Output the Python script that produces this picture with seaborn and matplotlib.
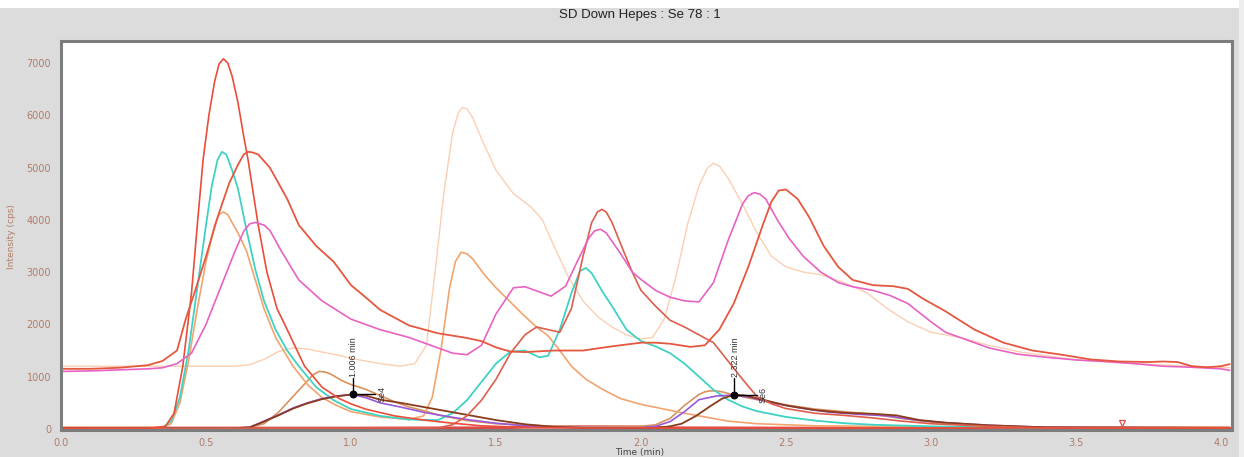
import matplotlib
matplotlib.use("Agg")
import matplotlib.pyplot as plt
from matplotlib.patches import Rectangle
from matplotlib.ticker import MultipleLocator
import seaborn as sns
import pandas as pd

# ---------------- data (time in min, intensity in cps) ----------------
red_broad_t = [0, 0.1, 0.2, 0.3, 0.35, 0.4, 0.43, 0.46, 0.5, 0.54, 0.58, 0.61, 0.63, 0.645, 0.66, 0.68, 0.72, 0.78, 0.82,
               0.88, 0.94, 1.0, 1.05, 1.1, 1.2, 1.3, 1.4, 1.45, 1.5, 1.55, 1.6, 1.7, 1.8, 1.9, 2.0, 2.05, 2.1,
               2.17, 2.22, 2.27, 2.32, 2.37, 2.42, 2.45, 2.475, 2.5, 2.54, 2.58, 2.63, 2.68, 2.73, 2.8, 2.87, 2.92,
               2.97, 3.05, 3.15, 3.25, 3.35, 3.45, 3.55, 3.65, 3.75, 3.8, 3.85, 3.9, 3.95, 4.0, 4.03]
red_broad_v = [1150, 1150, 1170, 1220, 1300, 1500, 2100, 2600, 3300, 4050, 4700, 5050, 5250, 5300, 5290, 5250, 5000, 4400, 3900,
               3500, 3200, 2750, 2520, 2280, 1980, 1830, 1740, 1680, 1560, 1480, 1470, 1500, 1500, 1580, 1650, 1650, 1630,
               1570, 1600, 1900, 2400, 3100, 3900, 4350, 4560, 4580, 4400, 4050, 3500, 3100, 2850, 2750, 2730, 2680,
               2500, 2250, 1900, 1650, 1500, 1420, 1330, 1290, 1280, 1290, 1280, 1200, 1180, 1200, 1240]

pink_t = [0, 0.1, 0.2, 0.3, 0.35, 0.4, 0.45, 0.5, 0.55, 0.6, 0.63, 0.65, 0.67, 0.7, 0.72, 0.76, 0.82, 0.9, 1.0, 1.1,
          1.2, 1.3, 1.35, 1.4, 1.45, 1.5, 1.56, 1.6, 1.64, 1.69, 1.74, 1.78, 1.82, 1.84, 1.86, 1.88, 1.93, 1.97, 2.0,
          2.05, 2.1, 2.15, 2.2, 2.25, 2.3, 2.35, 2.37, 2.39, 2.41, 2.43, 2.47, 2.51, 2.56, 2.62, 2.68, 2.73, 2.8, 2.86, 2.92,
          3.0, 3.05, 3.1, 3.2, 3.3, 3.4, 3.5, 3.6, 3.7, 3.8, 3.9, 4.0, 4.03]
pink_v = [1100, 1110, 1130, 1150, 1170, 1250, 1450, 2000, 2700, 3400, 3780, 3920, 3950, 3900, 3800, 3400, 2850, 2450, 2100, 1900,
          1750, 1550, 1450, 1420, 1600, 2200, 2700, 2720, 2640, 2540, 2730, 3200, 3650, 3790, 3820, 3750, 3350, 3000, 2860,
          2650, 2520, 2450, 2430, 2800, 3600, 4300, 4460, 4520, 4490, 4400, 4000, 3650, 3300, 3000, 2800, 2720, 2650, 2550, 2400,
          2050, 1850, 1750, 1550, 1430, 1370, 1320, 1290, 1250, 1200, 1180, 1150, 1120]

peach_t = [0, 0.2, 0.4, 0.6, 0.65, 0.7, 0.75, 0.8, 0.85, 0.9, 0.95, 1.0, 1.05, 1.1, 1.17, 1.22, 1.26, 1.29, 1.32,
           1.35, 1.37, 1.385, 1.4, 1.42, 1.45, 1.5, 1.56, 1.62, 1.66, 1.7, 1.75, 1.8, 1.85, 1.9, 1.95, 2.0, 2.04, 2.08, 2.12,
           2.16, 2.2, 2.23, 2.25, 2.27, 2.3, 2.35, 2.4, 2.45, 2.5, 2.56, 2.62, 2.7, 2.78, 2.85, 2.92, 3.0, 3.1, 3.2, 3.3, 3.5,
           3.7, 3.9, 4.03]
peach_v = [1200, 1200, 1200, 1200, 1230, 1330, 1480, 1550, 1530, 1470, 1420, 1350, 1300, 1250, 1200, 1250, 1600, 3000, 4500,
           5650, 6050, 6150, 6120, 5950, 5550, 4950, 4500, 4250, 4000, 3500, 2900, 2450, 2150, 1950, 1800, 1720, 1750, 2100, 2900,
           3900, 4650, 5000, 5080, 5030, 4800, 4300, 3750, 3300, 3100, 3000, 2950, 2800, 2600, 2300, 2050, 1850, 1750, 1600, 1480, 1320,
           1250, 1200, 1170]

red_tall_t = [0, 0.3, 0.36, 0.39, 0.42, 0.45, 0.47, 0.49, 0.51, 0.53, 0.545, 0.56, 0.575, 0.59, 0.61, 0.63, 0.645, 0.68, 0.71,
              0.745, 0.78, 0.84, 0.9, 0.96, 1.0, 1.05, 1.15, 1.25, 1.35, 1.45, 1.6, 1.8, 2.5, 4.03]
red_tall_v = [10, 10, 50, 300, 1200, 2600, 3900, 5150, 6000, 6650, 6980, 7080, 7000, 6750, 6250, 5600, 5150, 3900, 3000,
              2300, 1900, 1200, 800, 580, 480, 380, 250, 170, 110, 60, 30, 20, 20, 20]

red_mid_t = [0, 1.3, 1.35, 1.4, 1.45, 1.5, 1.55, 1.6, 1.64, 1.68, 1.72, 1.76, 1.8, 1.83, 1.85, 1.865, 1.88, 1.9, 1.94, 1.97,
             2.0, 2.05, 2.1, 2.15, 2.2, 2.25, 2.3, 2.35, 2.4, 2.45, 2.5, 2.6, 2.7, 2.8, 2.9, 3.0, 3.2, 3.4, 4.03]
red_mid_v = [10, 20, 80, 250, 550, 950, 1450, 1800, 1950, 1900, 1850, 2300, 3300, 3950, 4150, 4200, 4150, 3950, 3400, 3000,
             2650, 2350, 2080, 1950, 1800, 1650, 1300, 950, 620, 480, 390, 300, 260, 210, 150, 100, 50, 20, 20]

cyan_t = [0, 0.35, 0.38, 0.41, 0.44, 0.47, 0.5, 0.52, 0.54, 0.555, 0.57, 0.59, 0.61, 0.64, 0.67, 0.7, 0.74, 0.78, 0.82, 0.88,
          0.94, 1.0, 1.1, 1.2, 1.3, 1.35, 1.4, 1.45, 1.5, 1.55, 1.6, 1.65, 1.68, 1.72, 1.76, 1.79, 1.81, 1.83, 1.87, 1.9,
          1.95, 2.0, 2.05, 2.1, 2.15, 2.2, 2.25, 2.3, 2.35, 2.4, 2.5, 2.6, 2.7, 2.8, 3.0, 3.3, 4.03]
cyan_v = [10, 20, 150, 600, 1500, 2700, 3900, 4650, 5150, 5300, 5250, 4950, 4600, 3800, 3050, 2450, 1900, 1500, 1200, 800,
          550, 380, 250, 180, 170, 300, 550, 900, 1250, 1480, 1500, 1370, 1400, 1900, 2600, 3020, 3080, 2980, 2600, 2350,
          1900, 1680, 1580, 1450, 1250, 1000, 750, 560, 430, 340, 230, 160, 110, 80, 50, 20, 15]

orange_t = [0, 0.35, 0.38, 0.41, 0.44, 0.47, 0.5, 0.53, 0.545, 0.56, 0.575, 0.59, 0.61, 0.64, 0.67, 0.7, 0.74, 0.8, 0.85, 0.9,
            0.95, 1.0, 1.1, 1.2, 1.25, 1.28, 1.31, 1.34, 1.36, 1.38, 1.4, 1.42, 1.46, 1.5, 1.54, 1.6, 1.64, 1.68, 1.72,
            1.76, 1.81, 1.87, 1.93, 2.0, 2.08, 2.15, 2.2, 2.3, 2.4, 2.6, 3.0, 4.03]
orange_v = [30, 30, 100, 500, 1300, 2300, 3200, 3900, 4100, 4150, 4100, 3950, 3750, 3400, 2850, 2300, 1750, 1200, 850, 600,
            450, 330, 230, 180, 250, 600, 1500, 2700, 3200, 3380, 3350, 3250, 2950, 2700, 2480, 2150, 1950, 1780, 1500,
            1200, 950, 750, 580, 470, 380, 300, 250, 150, 100, 60, 40, 30]

tan_t = [0, 0.6, 0.65, 0.7, 0.75, 0.8, 0.85, 0.87, 0.89, 0.91, 0.93, 0.97, 1.0, 1.05, 1.1, 1.15, 1.2, 1.25, 1.3, 1.4, 1.5,
         1.7, 2.0, 2.05, 2.1, 2.15, 2.2, 2.22, 2.24, 2.26, 2.28, 2.32, 2.4, 2.5, 2.6, 2.7, 2.8, 2.9, 3.0, 3.1, 3.3, 4.03]
tan_v = [20, 20, 30, 100, 320, 620, 920, 1040, 1100, 1090, 1050, 920, 850, 760, 640, 520, 420, 350, 270, 160, 100,
         50, 50, 80, 200, 450, 660, 710, 730, 725, 710, 650, 560, 460, 380, 330, 280, 200, 130, 80, 40, 30]

purple_t = [0, 0.6, 0.65, 0.7, 0.75, 0.8, 0.85, 0.9, 0.95, 1.006, 1.05, 1.1, 1.17, 1.25, 1.33, 1.4, 1.5, 1.6, 1.7,
            2.0, 2.05, 2.1, 2.15, 2.2, 2.26, 2.322, 2.38, 2.45, 2.55, 2.65, 2.75, 2.85, 2.95, 3.05, 3.2, 3.4, 4.03]
purple_v = [15, 15, 30, 150, 270, 400, 500, 580, 630, 660, 600, 500, 420, 320, 240, 180, 110, 60, 30,
            25, 50, 140, 330, 560, 630, 650, 600, 500, 400, 320, 280, 250, 170, 120, 70, 30, 20]

brown_t = [0, 0.6, 0.65, 0.7, 0.75, 0.8, 0.85, 0.9, 0.95, 1.006, 1.05, 1.1, 1.17, 1.25, 1.33, 1.4, 1.5, 1.6, 1.7,
           1.8, 2.05, 2.1, 2.14, 2.19, 2.24, 2.28, 2.322, 2.36, 2.42, 2.5, 2.6, 2.7, 2.8, 2.88, 2.96, 3.05, 3.2,
           3.4, 4.03]
brown_v = [15, 15, 30, 140, 260, 390, 490, 570, 625, 660, 640, 560, 500, 420, 340, 270, 170, 90, 40,
           20, 20, 50, 100, 250, 440, 580, 655, 640, 560, 450, 360, 310, 290, 260, 170, 120, 70, 30, 20]

base_t = [0, 0.5, 1.0, 1.5, 1.6, 1.8, 2.0, 2.1, 2.5, 3.0, 3.5, 4.03]
base_v = [15, 15, 15, 20, 35, 40, 35, 20, 15, 15, 15, 15]

peaks_t = [1.006, 2.322]
peaks_v = [660, 650]
peak_labels = ["1.006 min", "2.322 min"]
peak_names = ["Se4", "Se6"]

traces = [
    ("peach", peach_t, peach_v, "#fbcfb2", 1.0),
    ("tan", tan_t, tan_v, "#d8925e", 1.2),
    ("orange", orange_t, orange_v, "#f1a46e", 1.2),
    ("cyan", cyan_t, cyan_v, "#3fd2c2", 1.3),
    ("purple", purple_t, purple_v, "#9a58d8", 1.2),
    ("brown", brown_t, brown_v, "#8a3b1c", 1.3),
    ("red_mid", red_mid_t, red_mid_v, "#dc5f4e", 1.2),
    ("red_tall", red_tall_t, red_tall_v, "#ea4d3a", 1.2),
    ("pink", pink_t, pink_v, "#e762c3", 1.2),
    ("red_broad", red_broad_t, red_broad_v, "#e5573f", 1.3),
]

# ---------------- figure ----------------
sns.set_theme(style="white")
plt.rcParams["font.family"] = ["DejaVu Sans"]

fig = plt.figure(figsize=(12.44, 4.57), dpi=100, facecolor="#dcdcdc")
fig.patches.append(Rectangle((0, 1 - 8 / 457), 1, 8 / 457, transform=fig.transFigure,
                             facecolor="white", edgecolor="none", zorder=0))
fig.patches.append(Rectangle((1239 / 1244, 0), 5 / 1244, 1, transform=fig.transFigure,
                             facecolor="#eeeeee", edgecolor="none", zorder=0))
ax = fig.add_axes([61 / 1244, (457 - 430) / 457, (1232 - 61) / 1244, (430 - 41) / 457])
ax.set_facecolor("white")

sns.lineplot(x=base_t, y=base_v, ax=ax, color="#e04848", lw=2.2, legend=False)
for name, t, v, col, lw in traces:
    df = pd.DataFrame({"time": t, "intensity": v})
    sns.lineplot(data=df, x="time", y="intensity", ax=ax, color=col, lw=lw,
                 estimator=None, sort=False, legend=False)

# peak annotations
for pt, pv, lab, nm in zip(peaks_t, peaks_v, peak_labels, peak_names):
    ax.plot([pt, pt], [pv, pv + 320], color="black", lw=1.0, zorder=6)
    ax.plot([pt, pt + 0.077], [pv, pv], color="black", lw=1.0, zorder=6)
    ax.scatter([pt], [pv], s=22, color="black", zorder=7)
    ax.text(pt + 0.004, pv + 340, lab, rotation=90, ha="center", va="bottom",
            fontsize=6.5, color="#333333", family="Liberation Sans", zorder=7)
    ax.text(pt + 0.1, pv + 10, nm, rotation=90, ha="center", va="center",
            fontsize=6.5, color="#333333", family="Liberation Sans", zorder=7)

# small marker near baseline
ax.plot([3.66], [110], marker="v", markersize=5, markerfacecolor="none",
        markeredgecolor="#e05050", markeredgewidth=0.9, linestyle="none", clip_on=False)

ax.set_xlim(0, 4.038)
ax.set_ylim(-20, 7420)
ax.xaxis.set_major_locator(MultipleLocator(0.5))
ax.xaxis.set_minor_locator(MultipleLocator(0.1))
ax.yaxis.set_major_locator(MultipleLocator(1000))
ax.yaxis.set_minor_locator(MultipleLocator(500))
ax.xaxis.set_major_formatter(matplotlib.ticker.FormatStrFormatter("%.1f"))
ax.tick_params(axis="both", which="both", direction="out", length=5, width=1,
               color="#808080", labelsize=7, labelcolor="#b07c68")
ax.tick_params(axis="x", which="both", pad=1)
ax.tick_params(axis="y", which="both", pad=2)
ax.set_xlabel("")
ax.set_ylabel("")
for side in ["left", "top", "right", "bottom"]:
    ax.spines[side].set_visible(True)
    ax.spines[side].set_color("#7c7c7c")
    ax.spines[side].set_linewidth(2.2)

fig.text(640 / 1244, 1 - 15 / 457, "SD Down Hepes : Se 78 : 1", ha="center", va="center",
         fontsize=9.5, color="#222222", family="Liberation Sans")
fig.text(640 / 1244, 1 - 452 / 457, "Time (min)", ha="center", va="center",
         fontsize=6.5, color="#444444")
fig.text(12 / 1244, 1 - 237 / 457, "Intensity (cps)", ha="center", va="center",
         rotation=90, fontsize=6.5, color="#b07c68")

fig.savefig("out.png", dpi=100, facecolor=fig.get_facecolor())
